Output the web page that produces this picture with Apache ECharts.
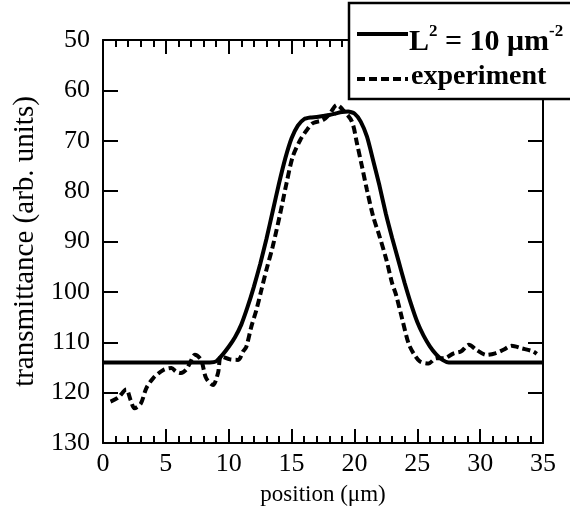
<!DOCTYPE html>
<html><head><meta charset="utf-8">
<script src="https://cdn.jsdelivr.net/npm/echarts@6/dist/echarts.min.js"></script>
<style>html,body{margin:0;padding:0;background:#fff}#c{width:570px;height:518px}</style>
</head><body><div id="c"></div>
<script>
// theory curve (L^2 = 10 um^-2)
const theoryX = [0, 8.5, 9.0, 9.5, 10.0, 10.5, 11.0, 11.5, 12.0, 12.5, 13.0, 13.5, 14.0, 14.5, 15.0, 15.5, 16.0, 16.5, 17.0, 17.5, 18.0, 18.5, 19.0, 19.5, 20.0, 20.5, 21.0, 21.5, 22.0, 22.5, 23.0, 23.5, 24.0, 24.5, 25.0, 25.5, 26.0, 26.5, 27.0, 27.5, 35];
const theoryY = [114, 114, 113.8, 112.5, 110.9, 109.0, 106.5, 103.0, 99.0, 94.5, 89.5, 84.0, 78.5, 73.5, 69.5, 67.0, 65.7, 65.4, 65.3, 65.1, 64.9, 64.6, 64.3, 64.2, 64.6, 66.2, 69.2, 74.0, 79.0, 84.5, 89.3, 93.8, 98.3, 102.4, 106.0, 108.7, 110.8, 112.4, 113.5, 114, 114];
// experiment
const expX = [0.6, 1.2, 1.85, 2.2, 2.5, 3.0, 3.45, 4.0, 4.8, 5.45, 5.8, 6.2, 6.6, 6.9, 7.3, 7.8, 8.2, 8.75, 9.15, 9.4, 10.1, 10.75, 11.15, 11.4, 11.8, 12.2, 12.6, 13.0, 13.5, 14.1, 14.6, 15.1, 15.7, 16.2, 16.7, 17.5, 18.0, 18.6, 19.1, 19.8, 20.2, 20.6, 21.0, 21.5, 22.0, 22.55, 23.0, 23.3, 23.75, 24.3, 24.7, 25.2, 25.9, 26.5, 27.1, 27.9, 28.5, 29.1, 29.7, 30.5, 31.2, 31.85, 32.5, 33.3, 34.2, 34.5];
const expY = [121.8, 121.0, 119.4, 121.5, 123.1, 122.2, 119.1, 117.1, 115.5, 115.1, 115.8, 116.1, 115.5, 114.2, 112.5, 113.5, 117.1, 118.5, 116.1, 112.8, 113.4, 113.5, 111.8, 110.9, 106.9, 103.6, 99.6, 95.6, 91.0, 84.4, 78.4, 73.1, 69.8, 67.9, 66.5, 65.9, 64.8, 62.9, 63.9, 66.2, 70.5, 75.1, 79.8, 85.1, 89.0, 93.7, 98.3, 100.5, 104.9, 110.2, 112.2, 113.8, 114.2, 113.2, 113.2, 112.2, 111.8, 110.5, 111.5, 112.5, 112.2, 111.5, 110.7, 111.2, 111.8, 112.3];
const xTicks = {min: 0, max: 35, step: 5};
const yTicks = {min: 50, max: 130, step: 10};
const xName = 'position (μm)';
const yName = 'transmittance (arb. units)';

const F = 'Liberation Serif, Times New Roman, serif';
const axLine = {show: true, onZero: false, lineStyle: {color: '#000', width: 2}};
const tk = (len) => ({inside: true, length: len, lineStyle: {color: '#000', width: 2}});
const chart = echarts.init(document.getElementById('c'));
chart.setOption({
  animation: false,
  grid: {left: 103, right: 27, top: 40, bottom: 75, outerBoundsMode: 'none', containLabel: false},
  xAxis: [{
    type: 'value', min: xTicks.min, max: xTicks.max, interval: xTicks.step,
    axisLine: axLine, splitLine: {show: false},
    axisTick: tk(14),
    minorTick: {show: true, splitNumber: 5, length: 7, lineStyle: {color: '#000', width: 2}},
    axisLabel: {color: '#000', fontFamily: F, fontSize: 26, margin: 8},
    name: xName, nameLocation: 'middle', nameGap: 40,
    nameTextStyle: {color: '#000', fontFamily: F, fontSize: 23}
  }, {
    type: 'value', position: 'top', min: xTicks.min, max: xTicks.max, interval: xTicks.step,
    axisLine: axLine, splitLine: {show: false}, axisLabel: {show: false},
    axisTick: tk(14),
    minorTick: {show: true, splitNumber: 5, length: 7, lineStyle: {color: '#000', width: 2}}
  }],
  yAxis: [{
    type: 'value', inverse: true, min: yTicks.min, max: yTicks.max, interval: yTicks.step,
    axisLine: axLine, splitLine: {show: false},
    axisTick: tk(15),
    axisLabel: {color: '#000', fontFamily: F, fontSize: 26, margin: 13},
    name: yName, nameLocation: 'middle', nameGap: 58,
    nameTextStyle: {color: '#000', fontFamily: F, fontSize: 29}
  }, {
    type: 'value', position: 'right', inverse: true, min: yTicks.min, max: yTicks.max, interval: yTicks.step,
    axisLine: axLine, splitLine: {show: false}, axisLabel: {show: false},
    axisTick: tk(15)
  }],
  series: [{
    type: 'line', name: 'theory', showSymbol: false, smooth: 0.2,
    data: theoryX.map((x, i) => [x, theoryY[i]]),
    lineStyle: {color: '#000', width: 4}, z: 3
  }, {
    type: 'line', name: 'experiment', showSymbol: false, smooth: 0.3,
    data: expX.map((x, i) => [x, expY[i]]),
    lineStyle: {color: '#000', width: 4, type: [8, 4]}, z: 4
  }],
  graphic: [
    {type: 'rect', z: 100, shape: {x: 349, y: 3, width: 230, height: 96},
     style: {fill: '#fff', stroke: '#000', lineWidth: 2.5}},
    {type: 'line', z: 101, shape: {x1: 357, y1: 34, x2: 408, y2: 34},
     style: {stroke: '#000', lineWidth: 4}},
    {type: 'line', z: 101, shape: {x1: 357, y1: 79, x2: 408, y2: 79},
     style: {stroke: '#000', lineWidth: 4, lineDash: [8, 4]}},
    {type: 'text', z: 101, left: 409, top: 23,
     style: {text: '{b|L}{s|2}{b| = 10 μm}{s|-2}', rich: {
       b: {fontFamily: F, fontSize: 30, fontWeight: 'bold', fill: '#000', verticalAlign: 'bottom', lineHeight: 34},
       s: {fontFamily: F, fontSize: 17, fontWeight: 'bold', fill: '#000', verticalAlign: 'top', lineHeight: 34, padding: [0, 0, 12, 0]}
     }}},
    {type: 'text', z: 101, left: 411, top: 63,
     style: {text: 'experiment', fontFamily: F, fontSize: 28, fontWeight: 'bold', fill: '#000'}}
  ]
});
</script></body></html>
